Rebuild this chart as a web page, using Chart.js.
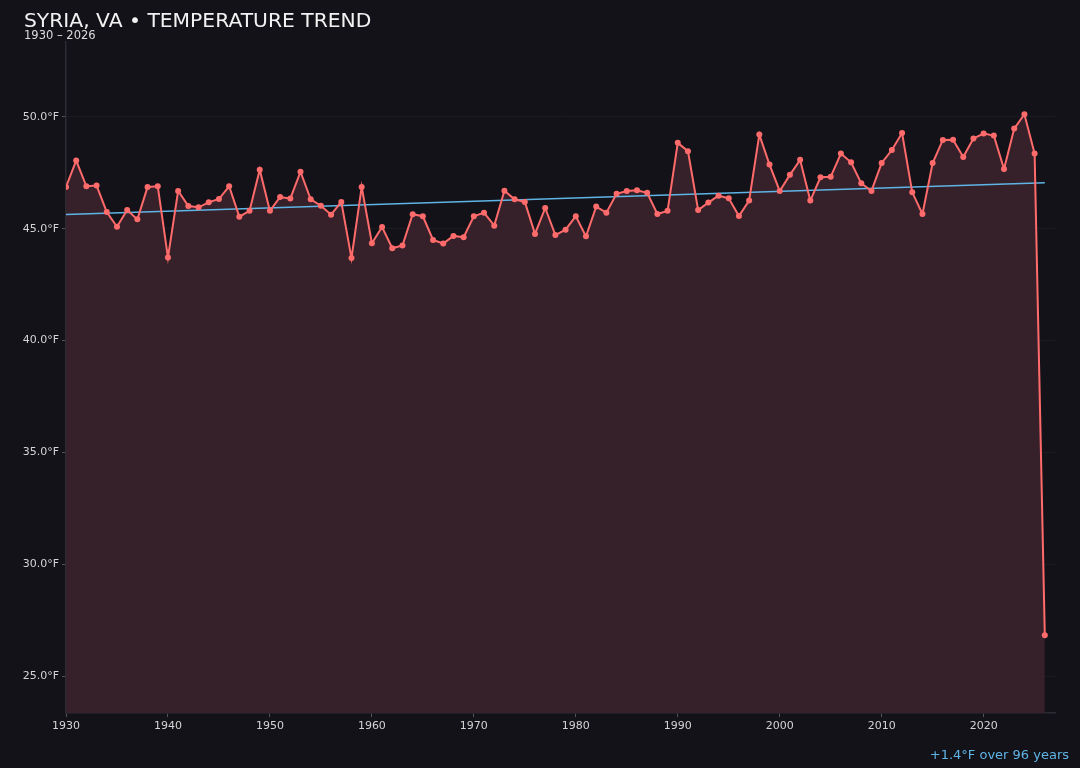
<!DOCTYPE html>
<html>
<head>
<meta charset="utf-8">
<title>Syria, VA temperature trend</title>
<script src="https://cdn.jsdelivr.net/npm/chart.js@4"></script>
<style>
    body { margin: 0; background: #131218; font-family: "DejaVu Sans", sans-serif; }
    #wrap { position: relative; width: 1080px; height: 768px; }
    #title { position: absolute; left: 24px; top: 8px; font-size: 20.3px; color: #f2f2f2; }
    #subtitle { position: absolute; left: 24px; top: 28px; font-size: 11.5px; color: #dddddd; }
    #note { position: absolute; right: 11px; top: 747px; font-size: 13px; color: #5fb4e6; }
</style>
</head>
<body>
<div id="wrap">
    <canvas id="chart"></canvas>
    <div id="title">SYRIA, VA • TEMPERATURE TREND</div>
    <div id="subtitle">1930 – 2026</div>
    <div id="note">+1.4°F over 96 years</div>
</div>
<script>
// ============================================
// DATI
// ============================================
const FIRST_YEAR = 1930;
const LAST_YEAR  = 2026;
const years = Array.from({ length: LAST_YEAR - FIRST_YEAR + 1 }, (_, i) => FIRST_YEAR + i);

// temperatura media annua (°F)
const temps = [
    46.87, 48.05, 46.90, 46.93, 45.75, 45.09, 45.84, 45.42, 46.87, 46.90, // 1930-1939
    43.72, 46.69, 46.02, 45.96, 46.18, 46.33, 46.90, 45.54, 45.80, 47.64, // 1940-1949
    45.80, 46.42, 46.35, 47.55, 46.32, 46.03, 45.63, 46.20, 43.69, 46.87, // 1950-1959
    44.35, 45.08, 44.13, 44.25, 45.65, 45.56, 44.50, 44.34, 44.68, 44.62, // 1960-1969
    45.56, 45.72, 45.14, 46.70, 46.32, 46.20, 44.77, 45.93, 44.72, 44.96, // 1970-1979
    45.56, 44.66, 45.99, 45.72, 46.56, 46.69, 46.72, 46.61, 45.66, 45.80, // 1980-1989
    48.84, 48.47, 45.84, 46.17, 46.48, 46.36, 45.57, 46.26, 49.21, 47.87, // 1990-1999
    46.69, 47.41, 48.08, 46.26, 47.30, 47.32, 48.36, 47.97, 47.03, 46.69, // 2000-2009
    47.94, 48.52, 49.28, 46.63, 45.66, 47.94, 48.97, 48.98, 48.21, 49.04, // 2010-2019
    49.26, 49.17, 47.67, 49.48, 50.12, 48.36, 26.83                       // 2020-2026
];

// linea di tendenza (estremi)
const trendYears  = [1930, 2026];
const trendValues = [45.64, 47.06];

// tick degli assi
const xTicks = [1930, 1940, 1950, 1960, 1970, 1980, 1990, 2000, 2010, 2020];
const yTicks = [25, 30, 35, 40, 45, 50];

// ============================================
// COLORI
// ============================================
const LINE_RED   = '#ff6b6b';
const FILL_RED   = '#36212a';
const TREND_BLUE = '#5fb4e6';
const TICK_TEXT  = '#d4d4d4';
const GRID_FAINT = 'rgba(255,255,255,0.04)';
const SPINE      = '#2c2b33';

Chart.defaults.font.family = '"DejaVu Sans", sans-serif';

new Chart(document.getElementById('chart'), {
    type: 'line',
    data: {
        datasets: [{
            label: 'Temperatura',
            data: years.map((y, i) => ({ x: y, y: temps[i] })),
            borderColor: LINE_RED,
            backgroundColor: FILL_RED,
            borderWidth: 2,
            pointRadius: 3,
            pointBackgroundColor: LINE_RED,
            pointBorderWidth: 0,
            fill: 'start',
            tension: 0,
            order: 0
        }, {
            label: 'Tendenza',
            data: trendYears.map((y, i) => ({ x: y, y: trendValues[i] })),
            borderColor: TREND_BLUE,
            borderWidth: 1.5,
            pointRadius: 0,
            fill: false,
            order: 1
        }]
    },
    options: {
        responsive: true,
        maintainAspectRatio: false,
        animation: false,
        layout: { padding: { left: 0, right: 25, top: 42, bottom: 0 } },
        plugins: {
            legend: { display: false },
            tooltip: { enabled: false },
            filler: { drawTime: 'beforeDatasetsDraw' } // riempimento sotto la linea blu
        },
        scales: {
            x: {
                type: 'linear',
                min: 1930,
                max: 2027,
                afterFit: s => { s.height = 55; },
                afterBuildTicks: s => { s.ticks = xTicks.map(v => ({ value: v })); },
                grid: { drawOnChartArea: false, tickLength: 4, tickColor: '#55545c' },
                border: { color: SPINE, width: 1.5 },
                ticks: { color: TICK_TEXT, font: { size: 11 }, padding: 3, maxRotation: 0, callback: v => String(v) }
            },
            y: {
                min: 23.35,
                max: 53.35,
                afterFit: s => { s.width = 66; },
                afterBuildTicks: s => { s.ticks = yTicks.map(v => ({ value: v })); },
                grid: { color: GRID_FAINT, tickLength: 4, tickColor: '#55545c' },
                border: { color: SPINE, width: 1.5 },
                ticks: { color: TICK_TEXT, font: { size: 11 }, padding: 3, callback: v => v.toFixed(1) + '°F' }
            }
        }
    }
});
</script>
</body>
</html>
